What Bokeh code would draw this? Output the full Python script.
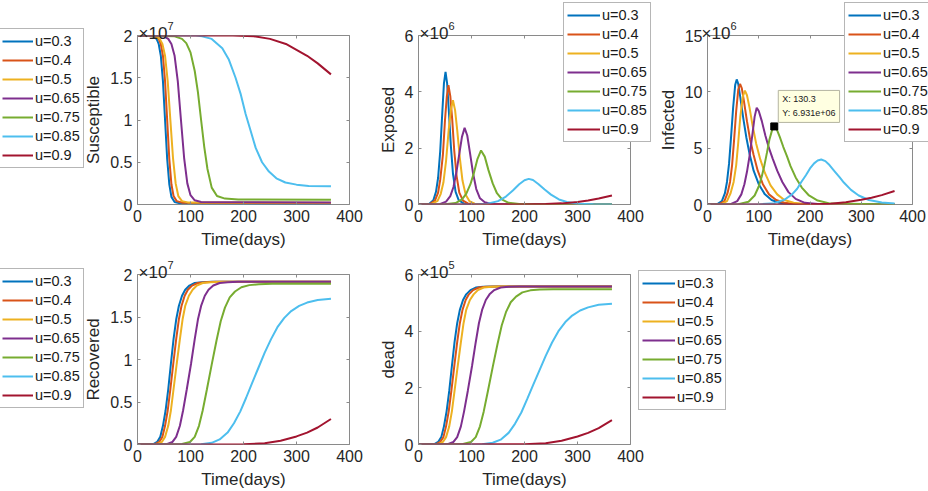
from bokeh.plotting import figure
from bokeh.models import (Legend, LegendItem, Label, FixedTicker, LinearAxis,
                          Range1d, GridBox, CustomJSTickFormatter)
from bokeh.embed import file_html
from bokeh.resources import INLINE

# ---------------- data ----------------
u_labels = ["u=0.3", "u=0.4", "u=0.5", "u=0.65", "u=0.75", "u=0.85", "u=0.9"]
colors = ["#0072BD", "#D95319", "#EDB120", "#7E2F8E", "#77AC30", "#4DBEEE", "#A2142F"]
x_ticks = [0, 100, 200, 300, 400]

# Susceptible (x 1e7)
sus_03_t = [0, 30, 36, 40, 44, 48, 52, 56, 60, 64, 70, 80, 365]
sus_03_v = [2.0, 1.99, 1.96, 1.90, 1.76, 1.46, 1.0, 0.54, 0.24, 0.09, 0.03, 0.015, 0.01]
sus_04_t = [0, 33, 40, 44, 48, 52, 56, 60, 64, 68, 74, 85, 365]
sus_04_v = [2.0, 1.99, 1.96, 1.90, 1.76, 1.46, 1.0, 0.54, 0.24, 0.10, 0.04, 0.02, 0.015]
sus_05_t = [0, 35, 42, 47, 52, 57, 62, 67, 72, 77, 84, 95, 365]
sus_05_v = [2.0, 1.99, 1.96, 1.90, 1.76, 1.46, 1.0, 0.55, 0.25, 0.10, 0.04, 0.025, 0.02]
sus_065_t = [0, 50, 58, 64, 70, 76, 82, 88, 94, 100, 108, 120, 365]
sus_065_v = [2.0, 1.99, 1.96, 1.90, 1.76, 1.46, 1.0, 0.55, 0.25, 0.11, 0.05, 0.03, 0.025]
sus_075_t = [0, 70, 84, 92, 100, 108, 114, 120, 126, 132, 140, 150, 165, 190, 365]
sus_075_v = [2.0, 1.99, 1.96, 1.91, 1.80, 1.58, 1.33, 1.0, 0.68, 0.42, 0.2, 0.1, 0.07, 0.06, 0.055]
sus_085_t = [0, 110, 122, 140, 160, 172, 185, 195, 204, 214, 223, 235, 248, 262, 279, 300, 323, 365]
sus_085_v = [2.0, 2.0, 1.99, 1.96, 1.85, 1.72, 1.5, 1.3, 1.07, 0.86, 0.67, 0.5, 0.39, 0.31, 0.26, 0.235, 0.22, 0.215]
sus_09_t = [0, 180, 220, 250, 280, 300, 320, 340, 365]
sus_09_v = [2.0, 2.0, 1.99, 1.96, 1.90, 1.83, 1.76, 1.67, 1.54]
sus_ticks = [0, 0.5, 1, 1.5, 2]

# Exposed (x 1e6)
exp_03_t = [0, 20, 28, 33, 37, 41, 45, 48, 51, 54, 57, 61, 65, 70, 76, 85, 100, 365]
exp_03_v = [0, 0.02, 0.15, 0.45, 0.95, 1.9, 3.3, 4.3, 4.71, 4.3, 3.4, 2.1, 1.1, 0.45, 0.15, 0.04, 0.005, 0]
exp_04_t = [0, 22, 31, 37, 41, 46, 50, 53.5, 56.5, 60, 63.5, 67.5, 72, 77, 84, 93, 110, 365]
exp_04_v = [0, 0.02, 0.14, 0.42, 0.88, 1.75, 3.0, 3.85, 4.24, 3.85, 3.05, 1.9, 1.0, 0.42, 0.14, 0.04, 0.005, 0]
exp_05_t = [0, 25, 36, 42, 47, 52, 57, 61, 65, 69, 73, 78, 83, 89, 96, 106, 125, 365]
exp_05_v = [0, 0.02, 0.13, 0.38, 0.78, 1.55, 2.65, 3.35, 3.70, 3.35, 2.65, 1.65, 0.85, 0.35, 0.12, 0.03, 0.005, 0]
exp_065_t = [0, 40, 52, 60, 66, 72, 77, 82, 87, 92, 97, 103, 109, 116, 125, 138, 160, 365]
exp_065_v = [0, 0.01, 0.1, 0.3, 0.62, 1.2, 1.8, 2.4, 2.72, 2.45, 1.85, 1.1, 0.55, 0.22, 0.08, 0.02, 0.005, 0]
exp_075_t = [0, 50, 70, 82, 90, 98, 105, 111, 118, 125, 132, 140, 148, 158, 170, 190, 220, 365]
exp_075_v = [0, 0.005, 0.05, 0.18, 0.38, 0.72, 1.15, 1.6, 1.92, 1.7, 1.22, 0.75, 0.4, 0.17, 0.06, 0.015, 0.003, 0]
exp_085_t = [0, 100, 130, 150, 165, 178, 190, 200, 208, 216, 226, 238, 250, 265, 280, 300, 330, 365]
exp_085_v = [0, 0.003, 0.03, 0.12, 0.28, 0.5, 0.72, 0.86, 0.91, 0.87, 0.73, 0.53, 0.35, 0.18, 0.09, 0.03, 0.005, 0.002]
exp_09_t = [0, 200, 240, 270, 300, 320, 340, 365]
exp_09_v = [0, 0.002, 0.015, 0.04, 0.09, 0.14, 0.21, 0.32]
exp_ticks = [0, 2, 4, 6]

# Infected (x 1e6)
inf_03_t = [0, 20, 28, 34, 38, 42, 46, 50, 54, 57, 60, 64, 70, 76, 82, 90, 100, 112, 125, 140, 160, 365]
inf_03_v = [0, 0.05, 0.3, 1.0, 2.0, 3.6, 6.0, 8.6, 10.6, 11.1, 10.7, 9.5, 7.6, 5.9, 4.5, 3.0, 1.8, 0.9, 0.4, 0.15, 0.04, 0]
inf_04_t = [0, 24, 33, 39, 44, 48, 52, 56, 60, 63.5, 67, 71, 77, 83, 90, 98, 108, 120, 134, 150, 170, 365]
inf_04_v = [0, 0.05, 0.3, 1.0, 2.0, 3.5, 5.8, 8.3, 10.2, 10.7, 10.3, 9.2, 7.4, 5.8, 4.4, 3.0, 1.8, 0.9, 0.4, 0.15, 0.04, 0]
inf_05_t = [0, 28, 38, 45, 51, 56, 60, 64, 69, 73, 77, 82, 88, 95, 103, 112, 123, 136, 150, 168, 190, 365]
inf_05_v = [0, 0.05, 0.3, 1.0, 2.0, 3.5, 5.5, 7.8, 9.6, 10.1, 9.7, 8.6, 7.0, 5.4, 4.0, 2.8, 1.7, 0.9, 0.4, 0.15, 0.04, 0]
inf_065_t = [0, 45, 58, 66, 72, 77, 82, 87, 92, 96, 100, 106, 113, 120, 127, 136, 146, 158, 172, 190, 215, 365]
inf_065_v = [0, 0.03, 0.3, 0.9, 1.8, 2.9, 4.3, 6.0, 7.8, 8.58, 8.3, 7.4, 6.1, 5.0, 4.1, 3.0, 2.0, 1.1, 0.5, 0.15, 0.04, 0]
inf_075_t = [0, 60, 80, 92, 100, 106, 111, 116, 121, 126, 130.3, 135, 141, 148, 155, 162, 172, 184, 198, 215, 240, 365]
inf_075_v = [0, 0.02, 0.25, 0.8, 1.6, 2.5, 3.47, 4.6, 5.8, 6.6, 6.931, 6.7, 6.0, 5.1, 4.3, 3.4, 2.4, 1.5, 0.8, 0.35, 0.08, 0]
inf_085_t = [0, 100, 130, 150, 165, 175, 183, 192, 200, 208, 215, 222, 230, 238, 248, 258, 266, 280, 295, 315, 340, 365]
inf_085_v = [0, 0.01, 0.12, 0.42, 0.9, 1.4, 2.0, 2.6, 3.2, 3.65, 3.9, 3.99, 3.85, 3.5, 2.95, 2.4, 1.95, 1.3, 0.8, 0.4, 0.17, 0.08]
inf_09_t = [0, 200, 240, 270, 300, 320, 340, 365]
inf_09_v = [0, 0.005, 0.07, 0.2, 0.42, 0.6, 0.83, 1.2]
inf_ticks = [0, 5, 10, 15]
tip_x = 130.3
tip_y = 6.931

# Recovered (x 1e7)
rec_03_t = [0, 30, 37, 43, 48, 53, 58, 63, 68, 73, 78, 84, 90, 98, 108, 122, 140, 170, 365]
rec_03_v = [0, 0.005, 0.03, 0.09, 0.22, 0.4, 0.65, 0.95, 1.24, 1.47, 1.63, 1.75, 1.82, 1.87, 1.9, 1.91, 1.915, 1.915, 1.915]
rec_04_t = [0, 33, 41, 47, 52, 57, 62, 67.5, 73, 78, 83, 89, 95, 103, 114, 128, 148, 180, 365]
rec_04_v = [0, 0.005, 0.03, 0.09, 0.22, 0.4, 0.65, 0.95, 1.24, 1.47, 1.63, 1.75, 1.82, 1.87, 1.9, 1.91, 1.915, 1.915, 1.915]
rec_05_t = [0, 38, 46, 52, 58, 63, 68, 74, 80, 85, 90, 97, 104, 112, 123, 138, 160, 190, 365]
rec_05_v = [0, 0.005, 0.03, 0.09, 0.22, 0.4, 0.65, 0.95, 1.24, 1.47, 1.63, 1.75, 1.82, 1.87, 1.9, 1.91, 1.915, 1.915, 1.915]
rec_065_t = [0, 55, 66, 73, 80, 86, 93, 101, 108, 114, 120, 127, 134, 143, 155, 170, 190, 220, 365]
rec_065_v = [0, 0.005, 0.03, 0.09, 0.22, 0.4, 0.65, 0.95, 1.24, 1.47, 1.63, 1.75, 1.82, 1.87, 1.9, 1.91, 1.915, 1.915, 1.915]
rec_075_t = [0, 84, 99, 108, 116, 123, 131, 140, 149, 157, 165, 174, 184, 196, 211, 229, 254, 294, 365]
rec_075_v = [0, 0.005, 0.03, 0.09, 0.22, 0.4, 0.65, 0.94, 1.22, 1.45, 1.61, 1.73, 1.8, 1.85, 1.875, 1.885, 1.89, 1.89, 1.89]
rec_085_t = [0, 120, 140, 155, 170, 182, 194, 205, 216, 228, 240, 252, 264, 277, 290, 305, 320, 340, 365]
rec_085_v = [0, 0.003, 0.02, 0.06, 0.14, 0.25, 0.39, 0.55, 0.72, 0.9, 1.08, 1.24, 1.38, 1.49, 1.57, 1.63, 1.67, 1.70, 1.715]
rec_09_t = [0, 200, 240, 270, 300, 320, 340, 365]
rec_09_v = [0, 0.002, 0.015, 0.045, 0.095, 0.14, 0.2, 0.3]
rec_ticks = [0, 0.5, 1, 1.5, 2]

# dead (x 1e5)
dead_03_t = [0, 30, 37, 43, 48, 53, 58, 63, 68, 73, 78, 84, 90, 98, 108, 122, 140, 170, 365]
dead_03_v = [0, 0.015, 0.09, 0.26, 0.64, 1.17, 1.89, 2.77, 3.61, 4.28, 4.75, 5.1, 5.3, 5.45, 5.54, 5.57, 5.58, 5.58, 5.58]
dead_04_t = [0, 33, 41, 47, 52, 57, 62, 67.5, 73, 78, 83, 89, 95, 103, 114, 128, 148, 180, 365]
dead_04_v = [0, 0.015, 0.09, 0.26, 0.64, 1.17, 1.89, 2.77, 3.61, 4.28, 4.75, 5.1, 5.3, 5.45, 5.54, 5.57, 5.58, 5.58, 5.58]
dead_05_t = [0, 38, 46, 52, 58, 63, 68, 74, 80, 85, 90, 97, 104, 112, 123, 138, 160, 190, 365]
dead_05_v = [0, 0.015, 0.09, 0.26, 0.64, 1.17, 1.89, 2.77, 3.61, 4.28, 4.75, 5.1, 5.3, 5.45, 5.54, 5.57, 5.58, 5.58, 5.58]
dead_065_t = [0, 55, 66, 73, 80, 86, 93, 101, 108, 114, 120, 127, 134, 143, 155, 170, 190, 220, 365]
dead_065_v = [0, 0.015, 0.09, 0.26, 0.64, 1.17, 1.89, 2.77, 3.61, 4.28, 4.75, 5.1, 5.3, 5.45, 5.54, 5.57, 5.58, 5.58, 5.58]
dead_075_t = [0, 84, 99, 108, 116, 123, 131, 140, 149, 157, 165, 174, 184, 196, 211, 229, 254, 294, 365]
dead_075_v = [0, 0.015, 0.09, 0.26, 0.64, 1.16, 1.89, 2.73, 3.54, 4.2, 4.67, 5.02, 5.22, 5.37, 5.44, 5.47, 5.48, 5.48, 5.48]
dead_085_t = [0, 120, 140, 155, 170, 182, 194, 205, 216, 228, 240, 252, 264, 277, 290, 305, 320, 340, 365]
dead_085_v = [0, 0.01, 0.06, 0.17, 0.41, 0.73, 1.13, 1.6, 2.09, 2.61, 3.13, 3.6, 4.0, 4.32, 4.55, 4.73, 4.84, 4.93, 4.97]
dead_09_t = [0, 200, 240, 270, 300, 320, 340, 365]
dead_09_v = [0, 0.006, 0.045, 0.13, 0.28, 0.41, 0.58, 0.86]
dead_ticks = [0, 2, 4, 6]

# ---------------- layout / styling ----------------
FONT = "Liberation Sans"
AXC = "#8a8a8a"
TXT = "#262626"
PAGE_W, PAGE_H = 928, 491
COLS = [365, 290, 80, 193]
ROWS = [252, 239]
fmt_code = "return tick.toString();"


def panel(width, height, borders, y_end, y_ticks, y_label, series):
    bl, br, bt, bb = borders
    p = figure(width=width, height=height, x_range=Range1d(0, 400),
               y_range=Range1d(0, y_end), output_backend="svg",
               toolbar_location=None, min_border_left=bl, min_border_right=br,
               min_border_top=bt, min_border_bottom=bb,
               x_axis_label="Time(days)", y_axis_label=y_label)
    p.frame_align = False
    p.add_layout(LinearAxis(), "above")
    p.add_layout(LinearAxis(), "right")
    for ax in p.xaxis:
        ax.ticker = FixedTicker(ticks=x_ticks)
    for ax in p.yaxis:
        ax.ticker = FixedTicker(ticks=y_ticks)
    for ax in p.axis:
        ax.formatter = CustomJSTickFormatter(code=fmt_code)
        ax.axis_line_color = None
        ax.major_tick_line_color = AXC
        ax.major_tick_in = 3
        ax.major_tick_out = 0
        ax.minor_tick_line_color = None
        ax.major_label_text_font = FONT
        ax.major_label_text_font_size = "16px"
        ax.major_label_text_color = TXT
        ax.axis_label_text_font = FONT
        ax.axis_label_text_font_size = "17px"
        ax.axis_label_text_font_style = "normal"
        ax.axis_label_text_color = TXT
    p.xaxis[0].major_label_standoff = 3
    p.xaxis[0].axis_label_standoff = 4
    p.yaxis[0].major_label_standoff = 5
    p.yaxis[0].axis_label_standoff = 4
    for ax in (p.above[0], p.right[0]):
        ax.major_label_text_font_size = "8px"
        ax.major_label_text_color = None
        ax.major_label_standoff = 0
    p.outline_line_color = AXC
    p.outline_line_width = 1
    p.xgrid.visible = False
    p.ygrid.visible = False
    p.background_fill_color = "white"
    p.border_fill_color = "white"
    for (t, v), c in zip(series, colors):
        p.line(t, v, line_color=c, line_width=2)
    return p


sus_series = [(sus_03_t, sus_03_v), (sus_04_t, sus_04_v), (sus_05_t, sus_05_v),
              (sus_065_t, sus_065_v), (sus_075_t, sus_075_v), (sus_085_t, sus_085_v),
              (sus_09_t, sus_09_v)]
exp_series = [(exp_03_t, exp_03_v), (exp_04_t, exp_04_v), (exp_05_t, exp_05_v),
              (exp_065_t, exp_065_v), (exp_075_t, exp_075_v), (exp_085_t, exp_085_v),
              (exp_09_t, exp_09_v)]
inf_series = [(inf_03_t, inf_03_v), (inf_04_t, inf_04_v), (inf_05_t, inf_05_v),
              (inf_065_t, inf_065_v), (inf_075_t, inf_075_v), (inf_085_t, inf_085_v),
              (inf_09_t, inf_09_v)]
rec_series = [(rec_03_t, rec_03_v), (rec_04_t, rec_04_v), (rec_05_t, rec_05_v),
              (rec_065_t, rec_065_v), (rec_075_t, rec_075_v), (rec_085_t, rec_085_v),
              (rec_09_t, rec_09_v)]
dead_series = [(dead_03_t, dead_03_v), (dead_04_t, dead_04_v), (dead_05_t, dead_05_v),
               (dead_065_t, dead_065_v), (dead_075_t, dead_075_v), (dead_085_t, dead_085_v),
               (dead_09_t, dead_09_v)]

# borders: (left, right, top, bottom)
pA = panel(365, 252, (137, 16, 35, 48), 2, sus_ticks, "Susceptible", sus_series)
pB = panel(290, 252, (53, 25, 35, 48), 6, exp_ticks, "Exposed", exp_series)
pC = panel(273, 252, (45, 16, 35, 48), 15, inf_ticks, "Infected", inf_series)
pD = panel(365, 239, (137, 16, 22, 47), 2, rec_ticks, "Recovered", rec_series)
pE = panel(370, 239, (53, 105, 22, 47), 6, dead_ticks, "dead", dead_series)

# data tip on the Infected panel
pC.scatter(x=[tip_x], y=[tip_y], marker="square", size=7, color="black")
pC.add_layout(Label(x=tip_x, y=tip_y, x_offset=4, y_offset=4,
                    text=f"X: {tip_x}\nY: {tip_y * 1e6:.3e}",
                    text_font=FONT, text_font_size="9px", text_color="#202020",
                    text_line_height=1.4, text_baseline="bottom",
                    background_fill_color="#ffffe1", border_line_color="#b4b4a0",
                    padding=4))

# frame top-left corners in page pixels (from the panel borders above)
frames = [(137, 35, "7"), (365 + 53, 35, "6"), (655 + 45, 35, "6"),
          (137, 252 + 22, "7"), (365 + 53, 252 + 22, "5")]
# legend boxes: (left, top, glyph width) in page pixels
legend_boxes = [(-2, 30, 31), (563, 4, 33), (844, 4, 33), (-2, 270, 31), (638, 272, 33)]
LEG_H = 7 * 18 + 6 * 1 + 2 * 3

# transparent overlay carrying legends and exponent labels (not clipped by panel frames)
ov = figure(width=PAGE_W, height=PAGE_H, x_range=Range1d(0, PAGE_W),
            y_range=Range1d(PAGE_H, 0), output_backend="svg", toolbar_location=None,
            x_axis_type=None, y_axis_type=None, min_border=0,
            min_border_left=0, min_border_right=0, min_border_top=0, min_border_bottom=0)
ov.frame_align = False
ov.outline_line_color = None
ov.background_fill_alpha = 0
ov.border_fill_alpha = 0
ov.xgrid.visible = False
ov.ygrid.visible = False
# single-point lines: nothing visible in the plot, they only give the legend its samples
leg_rends = [ov.line(x=[-50], y=[-50], line_color=c, line_width=2) for c in colors]
for lx, ly, gw in legend_boxes:
    ov.add_layout(Legend(
        items=[LegendItem(label=l, renderers=[r]) for l, r in zip(u_labels, leg_rends)],
        location=(lx, PAGE_H - (ly + LEG_H)), orientation="vertical",
        label_text_font=FONT, label_text_font_size="14.5px", label_text_color="#1a1a1a",
        glyph_width=gw, glyph_height=18, label_height=18, spacing=1, padding=3,
        label_standoff=2, margin=0, border_line_color="#6e6e6e", border_line_width=1,
        background_fill_color="white", background_fill_alpha=1.0))
for fx, fy, expo in frames:
    ov.add_layout(Label(x=fx + 1, y=fy - 2, text="\u00d710", text_font=FONT,
                        text_font_size="17px", text_color=TXT, text_baseline="alphabetic"))
    ov.add_layout(Label(x=fx + 30, y=fy - 10, text=expo, text_font=FONT,
                        text_font_size="11px", text_color=TXT, text_baseline="alphabetic"))

grid = GridBox(children=[(pA, 0, 0), (pB, 0, 1), (pC, 0, 2, 1, 2),
                         (pD, 1, 0), (pE, 1, 1, 1, 2),
                         (ov, 0, 0, 2, 4)],
               rows=[f"{r}px" for r in ROWS], cols=[f"{c}px" for c in COLS], spacing=0)

open("out.html", "w").write(file_html(grid, INLINE))
